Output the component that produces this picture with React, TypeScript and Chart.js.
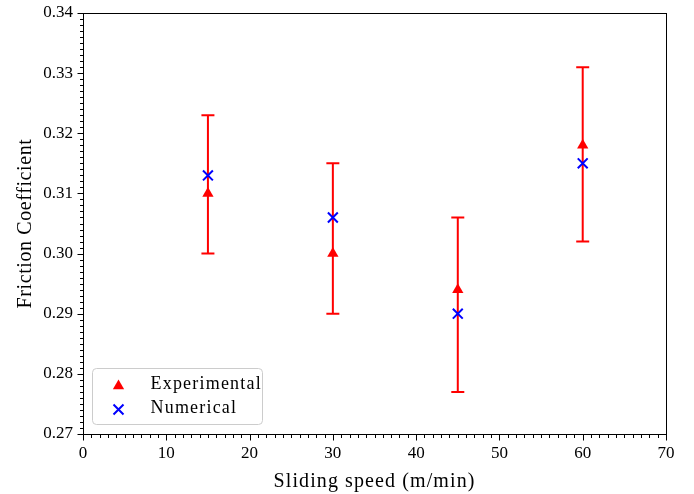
import React, { useEffect, useRef } from "react";
import { Chart, registerables } from "chart.js";

Chart.register(...registerables);

// ---- data ----
const speeds = [15, 30, 45, 60];
const experimental = [0.31, 0.3, 0.294, 0.318];
const expLower = [0.3, 0.29, 0.277, 0.302];
const expUpper = [0.323, 0.315, 0.306, 0.331];
const numerical = [0.313, 0.306, 0.29, 0.315];
const xRange = [0, 70];
const yRange = [0.27, 0.34];
const xLabel = "Sliding speed (m/min)";
const yLabel = "Friction Coefficient";
const legendLabels = ["Experimental", "Numerical"];

const FONT = "'Liberation Serif', 'Times New Roman', serif";
const RED = "#ff0000";
const BLUE = "#0000ff";

function drawTriangle(ctx: CanvasRenderingContext2D, x: number, y: number, r: number) {
  ctx.beginPath();
  ctx.moveTo(x, y - r);
  ctx.lineTo(x - r * 0.87, y + r * 0.5);
  ctx.lineTo(x + r * 0.87, y + r * 0.5);
  ctx.closePath();
  ctx.fillStyle = RED;
  ctx.fill();
}

function drawCross(ctx: CanvasRenderingContext2D, x: number, y: number, h: number) {
  ctx.beginPath();
  ctx.moveTo(x - h, y - h);
  ctx.lineTo(x + h, y + h);
  ctx.moveTo(x - h, y + h);
  ctx.lineTo(x + h, y - h);
  ctx.strokeStyle = BLUE;
  ctx.lineWidth = 2;
  ctx.stroke();
}

const customPlugin = {
  id: "custom",
  beforeDatasetsDraw(chart: any) {
    const ctx: CanvasRenderingContext2D = chart.ctx;
    const xs = chart.scales.x;
    const ys = chart.scales.y;
    ctx.save();
    ctx.strokeStyle = RED;
    ctx.lineWidth = 2;
    for (let i = 0; i < speeds.length; i++) {
      const x = xs.getPixelForValue(speeds[i]);
      const y1 = ys.getPixelForValue(expLower[i]);
      const y2 = ys.getPixelForValue(expUpper[i]);
      ctx.beginPath();
      ctx.moveTo(x, y1);
      ctx.lineTo(x, y2);
      ctx.moveTo(x - 6.5, y1);
      ctx.lineTo(x + 6.5, y1);
      ctx.moveTo(x - 6.5, y2);
      ctx.lineTo(x + 6.5, y2);
      ctx.stroke();
    }
    ctx.restore();
  },
  afterDraw(chart: any) {
    const ctx: CanvasRenderingContext2D = chart.ctx;
    const xs = chart.scales.x;
    const ys = chart.scales.y;
    const a = chart.chartArea;
    ctx.save();
    // frame
    ctx.strokeStyle = "#000";
    ctx.lineWidth = 1;
    const L = Math.round(a.left) + 0.5;
    const R = Math.round(a.right) + 0.5;
    const T = Math.round(a.top) + 0.5;
    const B = Math.round(a.bottom) + 0.5;
    ctx.strokeRect(L, T, R - L, B - T);
    // ticks
    ctx.beginPath();
    for (let k = xRange[0]; k <= xRange[1]; k++) {
      const x = Math.round(xs.getPixelForValue(k)) + 0.5;
      const len = k % 10 === 0 ? 6 : 3.5;
      ctx.moveTo(x, B);
      ctx.lineTo(x, B + len);
    }
    const k0 = Math.round(yRange[0] * 1000);
    const k1 = Math.round(yRange[1] * 1000);
    for (let k = k0; k <= k1; k++) {
      const y = Math.round(ys.getPixelForValue(k / 1000)) + 0.5;
      const len = k % 10 === 0 ? 6 : 3.5;
      ctx.moveTo(L, y);
      ctx.lineTo(L - len, y);
    }
    ctx.stroke();

    // axis titles
    ctx.fillStyle = "#000";
    ctx.font = `20px ${FONT}`;
    (ctx as any).letterSpacing = "1.1px";
    ctx.textAlign = "center";
    ctx.textBaseline = "alphabetic";
    ctx.fillText(xLabel, (a.left + a.right) / 2, 487);
    (ctx as any).letterSpacing = "0.6px";
    ctx.save();
    ctx.translate(31, (a.top + a.bottom) / 2);
    ctx.rotate(-Math.PI / 2);
    ctx.fillText(yLabel, 0, 0);
    ctx.restore();

    // legend
    const lx = a.left + 9.5;
    const ly = a.bottom - 65.5;
    const lw = 170;
    const lh = 56;
    ctx.beginPath();
    (ctx as any).roundRect(lx, ly, lw, lh, 4);
    ctx.fillStyle = "rgba(255,255,255,0.8)";
    ctx.fill();
    ctx.strokeStyle = "#cccccc";
    ctx.lineWidth = 1;
    ctx.stroke();
    drawTriangle(ctx, lx + 26, ly + 17.5, 6.5);
    drawCross(ctx, lx + 26, ly + 41, 5);
    ctx.fillStyle = "#000";
    ctx.font = `18px ${FONT}`;
    (ctx as any).letterSpacing = "1.2px";
    ctx.textAlign = "left";
    ctx.textBaseline = "middle";
    ctx.fillText(legendLabels[0], lx + 58, ly + 16);
    ctx.fillText(legendLabels[1], lx + 58, ly + 40);
    ctx.restore();
  },
};

export default function App() {
  const ref = useRef<HTMLCanvasElement>(null);
  useEffect(() => {
    if (!ref.current) return;
    const chart = new Chart(ref.current, {
      type: "scatter",
      data: {
        datasets: [
          {
            label: legendLabels[0],
            data: speeds.map((s, i) => ({ x: s, y: experimental[i] })),
            pointStyle: "triangle",
            pointRadius: 6.5,
            backgroundColor: RED,
            borderColor: RED,
            borderWidth: 0,
            order: 1,
          },
          {
            label: legendLabels[1],
            data: speeds.map((s, i) => ({ x: s, y: numerical[i] })),
            pointStyle: "crossRot",
            pointRadius: 7,
            backgroundColor: BLUE,
            borderColor: BLUE,
            borderWidth: 2,
            order: 0,
          },
        ],
      },
      options: {
        responsive: false,
        animation: false,
        layout: { padding: { top: 13, right: 28, left: 0, bottom: 0 } },
        plugins: { legend: { display: false }, tooltip: { enabled: false } },
        scales: {
          x: {
            type: "linear",
            min: xRange[0],
            max: xRange[1],
            grid: { display: false, drawTicks: false },
            border: { display: false },
            ticks: {
              stepSize: 10,
              padding: 9,
              color: "#000",
              font: { family: FONT, size: 17 },
              maxRotation: 0,
            },
            afterFit: (s: any) => {
              s.height = 60;
              s.paddingLeft = 0;
              s.paddingRight = 0;
            },
          },
          y: {
            type: "linear",
            min: yRange[0],
            max: yRange[1],
            grid: { display: false, drawTicks: false },
            border: { display: false },
            ticks: {
              stepSize: 0.01,
              padding: 10,
              color: "#000",
              font: { family: FONT, size: 17 },
              callback: (v: any) => Number(v).toFixed(2),
            },
            afterFit: (s: any) => {
              s.width = 83;
              s.paddingTop = 0;
              s.paddingBottom = 0;
            },
          },
        },
      },
      plugins: [customPlugin],
    });
    return () => chart.destroy();
  }, []);
  return (
    <div style={{ position: "fixed", left: 0, top: 0, width: 694, height: 494, background: "#fff" }}>
      <canvas ref={ref} width={694} height={494} style={{ display: "block" }} />
    </div>
  );
}
